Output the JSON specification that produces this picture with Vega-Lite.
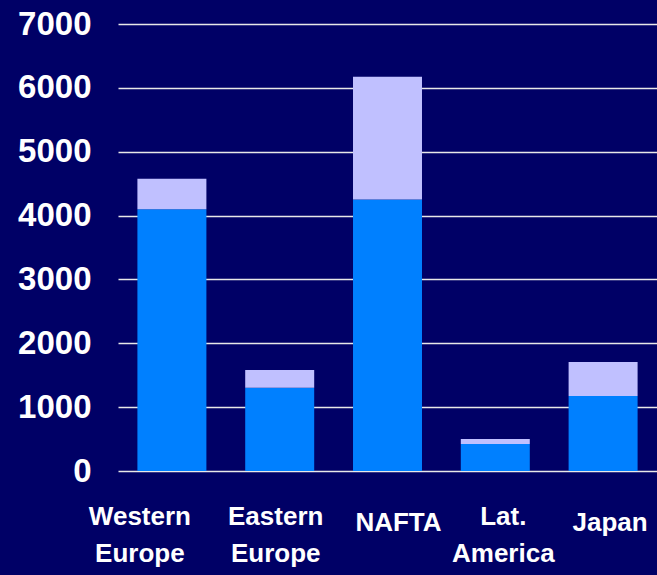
{
  "$schema": "https://vega.github.io/schema/vega-lite/v6.json",
  "autosize": "none",
  "width": 539,
  "height": 447,
  "padding": {"left": 118, "top": 24, "right": 0, "bottom": 104},
  "background": "#000066",
  "config": {
    "view": {"stroke": null},
    "font": "Liberation Sans"
  },
  "data": {
    "values": [
      {"region": "Western Europe", "part": "base", "value": 4100},
      {"region": "Western Europe", "part": "top", "value": 475},
      {"region": "Eastern Europe", "part": "base", "value": 1305},
      {"region": "Eastern Europe", "part": "top", "value": 278},
      {"region": "NAFTA", "part": "base", "value": 4250},
      {"region": "NAFTA", "part": "top", "value": 1925},
      {"region": "Lat. America", "part": "base", "value": 423},
      {"region": "Lat. America", "part": "top", "value": 80},
      {"region": "Japan", "part": "base", "value": 1176},
      {"region": "Japan", "part": "top", "value": 532}
    ]
  },
  "mark": {"type": "bar"},
  "encoding": {
    "x": {
      "field": "region",
      "type": "nominal",
      "sort": null,
      "scale": {"paddingInner": 0.36, "paddingOuter": 0.18},
      "axis": {
        "title": null,
        "domain": false,
        "ticks": false,
        "labelAngle": 0,
        "labelColor": "white",
        "labelFont": "Liberation Sans",
        "labelFontWeight": "bold",
        "labelFontSize": 26,
        "labelPadding": {"condition": {"test": "datum.value == 'NAFTA' || datum.value == 'Japan'", "value": 38}, "value": 32},
        "labelOffset": {"expr": "datum.value == 'Western Europe' ? -32 : datum.value == 'Eastern Europe' ? -4 : datum.value == 'NAFTA' ? 11 : datum.value == 'Lat. America' ? 8 : 7"},
        "labelBaseline": "top",
        "labelLineHeight": 37,
        "labelExpr": "split(datum.label, ' ')"
      }
    },
    "y": {
      "field": "value",
      "type": "quantitative",
      "stack": "zero",
      "scale": {"domain": [0, 7000], "nice": false},
      "axis": {
        "title": null,
        "domain": false,
        "ticks": false,
        "values": [0, 1000, 2000, 3000, 4000, 5000, 6000, 7000],
        "format": "d",
        "labelColor": "white",
        "labelFont": "Liberation Sans",
        "labelFontWeight": "bold",
        "labelFontSize": 33,
        "labelPadding": 27,
        "gridColor": "#e8e8e8",
        "gridWidth": 1.5,
        "gridOpacity": 1
      }
    },
    "color": {
      "field": "part",
      "type": "nominal",
      "scale": {"domain": ["base", "top"], "range": ["#0080FF", "#C0C0FF"]},
      "legend": null
    },
    "order": {"field": "part", "sort": "ascending"}
  }
}
